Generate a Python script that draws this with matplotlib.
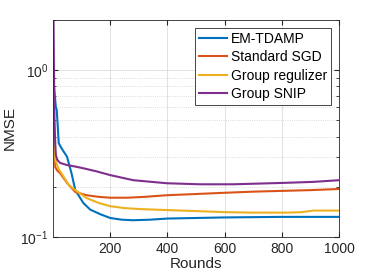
import matplotlib
matplotlib.use("Agg")
import matplotlib.pyplot as plt
from matplotlib.ticker import LogLocator, NullFormatter, FixedLocator

BLUE = "#0072BD"
ORANGE = "#D95319"
YELLOW = "#EDB120"
PURPLE = "#7E2F8E"
AX = "#262626"

plt.rcParams["font.family"] = ["Liberation Sans", "DejaVu Sans"]
plt.rcParams["mathtext.fontset"] = "custom"
plt.rcParams["mathtext.rm"] = "Liberation Sans"

labels = ["EM-TDAMP", "Standard SGD", "Group regulizer", "Group SNIP"]

em_r = [1, 10, 13, 17, 20, 30, 49, 65, 78, 106, 130, 165, 200, 240, 280, 340, 400, 500, 600, 800, 1000]
em_v = [0.9, 0.6, 0.58, 0.45, 0.365, 0.34, 0.303, 0.24, 0.191, 0.16, 0.146, 0.137, 0.130, 0.127, 0.126, 0.127, 0.129, 0.130, 0.131, 0.132, 0.132]

sgd_r = [1, 4, 8, 15, 25, 50, 78, 118, 160, 200, 260, 320, 398, 500, 596, 700, 800, 900, 1000]
sgd_v = [1.0, 0.45, 0.262, 0.25, 0.241, 0.21, 0.186, 0.178, 0.174, 0.172, 0.172, 0.174, 0.178, 0.181, 0.184, 0.187, 0.189, 0.191, 0.194]

grp_r = [1, 4, 8, 20, 37, 55, 78, 118, 160, 200, 250, 305, 398, 500, 596, 700, 820, 870, 910, 1000]
grp_v = [1.0, 0.5, 0.289, 0.255, 0.23, 0.205, 0.191, 0.171, 0.16, 0.153, 0.149, 0.147, 0.145, 0.143, 0.141, 0.140, 0.140, 0.141, 0.144, 0.144]

snip_r = [1, 3, 5, 8, 10, 15, 25, 49, 80, 107, 150, 200, 281, 398, 514, 630, 805, 910, 1000]
snip_v = [3.0, 1.2, 0.5, 0.36, 0.31, 0.29, 0.278, 0.27, 0.264, 0.258, 0.248, 0.235, 0.219, 0.210, 0.207, 0.207, 0.211, 0.214, 0.219]

fig = plt.figure(figsize=(3.74, 2.80), dpi=100)
ax = fig.add_axes([0.1417, 0.1536, 0.9064 - 0.1417, 0.9286 - 0.1536])

ax.plot(em_r, em_v, color=BLUE, lw=1.5, label=labels[0])
ax.plot(sgd_r, sgd_v, color=ORANGE, lw=1.5, label=labels[1])
ax.plot(grp_r, grp_v, color=YELLOW, lw=1.5, label=labels[2])
ax.plot(snip_r, snip_v, color=PURPLE, lw=1.5, label=labels[3])

ax.set_yscale("log")
ax.set_xlim(0, 1000)
ax.set_ylim(0.1, 2.0)
ax.xaxis.set_major_locator(FixedLocator([200, 400, 600, 800, 1000]))
ax.yaxis.set_major_locator(LogLocator(base=10))
ax.yaxis.set_minor_locator(LogLocator(base=10, subs=range(2, 10)))
ax.yaxis.set_minor_formatter(NullFormatter())

ax.grid(True, which="major", color="#dcdcdc", lw=0.6)
ax.grid(True, which="minor", axis="y", color="#d0d0d0", lw=0.6, ls=":")
ax.set_axisbelow(True)

ax.tick_params(which="both", direction="in", top=True, right=True, colors=AX, labelsize=10, labelcolor=AX)
ax.tick_params(which="major", length=3.5)
ax.tick_params(which="minor", length=2)
for s in ax.spines.values():
    s.set_color(AX)
    s.set_linewidth(0.6)

ax.set_xlabel("Rounds", fontsize=11, color=AX, labelpad=1)
ax.set_ylabel("NMSE", fontsize=11, color=AX, labelpad=2)

leg = ax.legend(loc="upper right", fontsize=10, handlelength=2.0, handletextpad=0.3,
                borderpad=0.3, labelspacing=0.32, fancybox=False, framealpha=1,
                borderaxespad=0.55)
leg.get_frame().set_edgecolor(AX)
leg.get_frame().set_linewidth(0.6)

fig.savefig("out.png", dpi=100)
